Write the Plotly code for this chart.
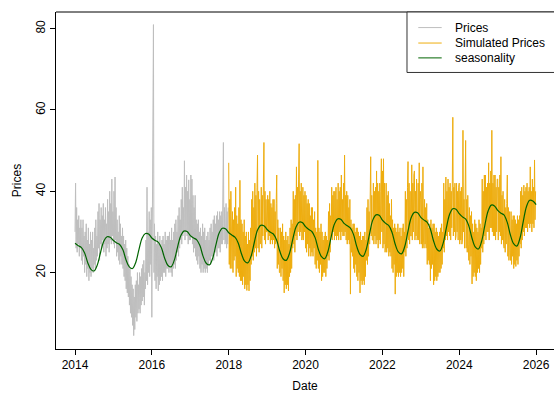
import pandas as pd
import plotly.graph_objects as go

# Observed prices, about every five days (six readings per month), 2014-2017
prices_2014 = [30, 42, 26, 36, 25, 33, 27, 34, 24, 31, 26, 33, 23, 31, 22, 33, 24, 29,
               20, 30, 22, 32, 19, 28, 21, 31, 18, 27, 20, 30, 19, 28, 21, 30, 20, 26,
               22, 31, 21, 33, 23, 29, 24, 35, 26, 37, 23, 33, 27, 36, 26, 34, 28, 37,
               25, 33, 27, 36, 24, 32, 26, 38, 27, 35, 25, 40, 28, 37, 27, 43, 29, 35]
prices_2015 = [27, 40, 26, 43.5, 28, 36, 24, 33, 25, 30, 23, 34, 22, 32, 24, 29, 22, 31,
               21, 29, 19, 27, 18, 28, 16, 26, 15, 24, 14, 22, 12, 21, 10, 19, 9, 17,
               7, 16, 4.5, 14, 6, 17, 9, 18, 8, 20, 10, 17, 11, 20, 10, 19, 12, 21,
               13, 22, 14, 23, 12, 20, 16, 28, 18, 41, 17, 30, 20, 35, 19, 33, 22, 36]
prices_2016 = [9, 30, 43, 81, 20, 32, 18, 29, 16, 27, 19, 30, 15.5, 27, 17, 29, 18, 26,
               19, 28, 18, 29, 20, 27, 20, 30, 19, 28, 21, 29, 21, 29, 20, 30, 22, 28,
               20, 31, 19, 28, 21, 30, 22, 32, 21, 33, 23, 30, 25, 34, 24, 36, 26, 33,
               28, 38, 27, 41, 29, 36, 30, 47.5, 28, 41, 30, 44, 29, 40, 27, 42.8, 28, 38]
prices_2017 = [28, 44, 29, 43, 27, 39, 25, 36, 26, 39, 24, 33, 23, 32, 22, 33, 24, 30,
               21, 31, 20, 29, 22, 32, 20, 30, 21, 31, 20, 28, 21, 29, 20, 30, 22, 28,
               23, 31, 22, 32, 24, 30, 24, 33, 23, 34, 25, 32, 25, 34, 24, 35, 26, 33,
               26, 35, 25, 34, 27, 35, 27, 44, 52, 28, 36, 27, 28, 37, 26, 35, 27, 36]

# Simulated prices, same sampling, 2018-2025
sim_2018 = [47, 22, 38, 21, 40, 24, 21, 35, 20, 33, 23, 36, 24, 41, 19, 34, 21, 32,
            20, 36, 19, 42.7, 18, 33, 18, 32, 17, 30, 19, 33, 16, 29, 17, 30, 15.6, 27,
            17, 30, 15.5, 28, 18, 31, 22, 38, 24, 40, 23, 36, 25, 42, 26, 39, 24, 41,
            48.9, 26, 40, 25, 38, 27, 28, 41, 26, 39, 29, 42, 52, 28, 40, 27, 38, 30]
sim_2019 = [30, 39, 28, 38, 29, 40, 27, 37, 28, 36, 27, 38, 28, 38, 26, 35, 27, 37,
            44, 21, 33, 22, 31, 20, 20, 31, 19, 30, 21, 32, 18, 29, 15, 28, 17, 30,
            16, 28, 17, 29, 15.5, 27, 19, 31, 20, 33, 21, 32, 26, 40, 27, 38, 25, 39,
            29, 46, 28, 41, 30, 43, 51.7, 29, 40, 30, 42, 28, 29, 41, 28, 39, 30, 40]
sim_2020 = [26, 39, 25, 37, 27, 38, 24, 37, 26, 34, 24, 36, 25, 36, 24, 33, 26, 35,
            22, 31, 21, 30, 23, 47.6, 21, 31, 20, 30, 22, 32, 18, 30, 19, 28, 20, 29,
            20, 30, 19, 29, 21, 28, 24, 35, 23, 37, 25, 34, 29, 41, 28, 39, 30, 40,
            28, 40, 29, 41, 28, 38, 29, 42, 28, 40, 30, 41, 28, 44, 30, 38, 29, 42]
sim_2021 = [29, 48.9, 30, 39, 28, 40, 27, 39, 28, 36, 27, 38, 14.7, 33, 25, 31, 24, 32,
            21, 32, 20, 30, 22, 31, 19, 31, 18, 30, 20, 29, 15, 30, 18, 28, 17, 29,
            18, 29, 17, 30, 19, 28, 23, 36, 22, 38, 24, 35, 27, 40, 48.5, 29, 39, 28,
            28, 42, 27, 40, 29, 41, 27, 45, 28, 42, 26, 40, 28, 42, 27, 40, 48, 30]
sim_2022 = [45, 26, 48, 27, 42, 25, 27, 42, 25, 39, 26, 40, 24, 37, 25, 34, 24, 38,
            21, 33, 20, 31, 22, 32, 14.7, 31, 19, 30, 20, 32, 19, 30, 20, 31, 19, 29,
            20, 31, 21, 32, 19, 30, 25, 40, 24, 38, 26, 41, 47.3, 28, 42, 27, 40, 29,
            29, 46.5, 28, 42, 30, 44, 45, 28, 40, 29, 43, 28, 29, 42, 28, 47, 27, 40]
sim_2023 = [38, 27, 42, 26, 46, 28, 26, 38, 27, 36, 26, 37, 22, 33, 23, 31, 22, 32,
            18, 33, 21, 31, 22, 32, 17, 32, 18, 30, 19, 31, 18, 30, 19, 29, 20, 30,
            20, 31, 21, 32, 22, 30, 26, 42, 25, 38, 28, 43.5, 29, 40, 28, 43, 30, 41,
            29, 42, 28, 40, 31, 41, 58.2, 29, 41, 30, 42, 28, 29, 42, 30, 40, 28, 41]
sim_2024 = [42, 27, 40, 28, 41, 27, 28, 55, 30, 38, 26, 40, 52.5, 26, 38, 25, 39, 27,
            23, 36, 22, 34, 24, 35, 17.2, 32, 19, 30, 20, 33, 19, 32, 18, 31, 20, 30,
            21, 33, 20, 32, 22, 31, 26, 43, 25, 40, 27, 44, 29, 44, 28, 41, 30, 42,
            30, 47, 28, 42, 31, 45, 31, 55, 30, 42, 29, 44, 29, 44, 28, 41, 30, 43]
sim_2025 = [43, 28, 41, 30, 44, 29, 48.5, 27, 39, 28, 40, 27, 26, 38, 25, 36, 27, 37,
            44, 24, 36, 23, 35, 25, 23, 35, 22, 33, 24, 34, 21, 34, 22, 33, 21.5, 32,
            23, 34, 22, 33, 24, 34, 27, 40, 26, 41, 28, 39, 30, 41.5, 29, 40, 31, 41,
            31, 42, 30, 40, 32, 41, 31, 46, 32, 40, 30, 43, 32, 41, 31, 47.7, 33, 40]

# Seasonal component, value at the start of each month
season_2014 = [27.2, 26.6, 26.2, 24.9, 22.5, 20.8, 20.4, 21.9, 25.0, 27.7, 28.8, 28.7]
season_2015 = [27.9, 27.3, 26.9, 25.6, 23.1, 21.4, 21.0, 22.5, 25.7, 28.5, 29.6, 29.5]
season_2016 = [28.5, 27.9, 27.5, 26.1, 23.6, 21.8, 21.4, 23.0, 26.2, 29.0, 30.2, 30.1]
season_2017 = [29.1, 28.5, 28.1, 26.7, 24.1, 22.3, 21.9, 23.5, 26.8, 29.7, 30.9, 30.8]
season_2018 = [29.8, 29.2, 28.7, 27.3, 24.7, 22.8, 22.4, 24.0, 27.4, 30.4, 31.6, 31.5]
season_2019 = [30.6, 29.9, 29.5, 28.0, 25.3, 23.4, 23.0, 24.7, 28.1, 31.1, 32.4, 32.3]
season_2020 = [31.3, 30.6, 30.1, 28.6, 25.8, 23.9, 23.4, 25.2, 28.8, 31.9, 33.2, 33.1]
season_2021 = [32.1, 31.5, 31.0, 29.4, 26.5, 24.5, 24.0, 25.8, 29.6, 32.9, 34.2, 34.1]
season_2022 = [32.9, 32.1, 31.6, 30.0, 27.1, 25.1, 24.6, 26.4, 30.2, 33.5, 34.8, 34.7]
season_2023 = [33.6, 32.9, 32.4, 30.8, 27.9, 25.8, 25.3, 27.2, 31.0, 34.3, 35.7, 35.6]
season_2024 = [34.5, 33.7, 33.2, 31.5, 28.5, 26.3, 25.8, 27.7, 31.7, 35.1, 36.6, 36.4]
season_2025 = [35.3, 34.6, 34.2, 32.4, 29.3, 27.1, 26.5, 28.5, 32.6, 36.2, 37.8, 37.6]
season_end = 36.7

x_ticks = [2014, 2016, 2018, 2020, 2022, 2024, 2026]
y_ticks = [20, 40, 60, 80]

GRAY = "#BEBEBE"
ORANGE = "#EEAD0E"
GREEN = "#006400"
FONT = "Liberation Sans, Arial, Helvetica, sans-serif"


def yearly_series(by_year):
    """Spread each year's readings evenly across that calendar year."""
    xs, ys = [], []
    for year, vals in by_year.items():
        dates = pd.date_range(f"{year}-01-01", f"{year + 1}-01-01", periods=len(vals) + 1)[:-1]
        xs.extend(dates)
        ys.extend(vals)
    return xs, ys


obs_x, obs_y = yearly_series({2014: prices_2014, 2015: prices_2015,
                              2016: prices_2016, 2017: prices_2017})
sim_x, sim_y = yearly_series({2018: sim_2018, 2019: sim_2019, 2020: sim_2020,
                              2021: sim_2021, 2022: sim_2022, 2023: sim_2023,
                              2024: sim_2024, 2025: sim_2025})

season_by_year = {2014: season_2014, 2015: season_2015, 2016: season_2016,
                  2017: season_2017, 2018: season_2018, 2019: season_2019,
                  2020: season_2020, 2021: season_2021, 2022: season_2022,
                  2023: season_2023, 2024: season_2024, 2025: season_2025}
sea_x, sea_y = [], []
for year, vals in season_by_year.items():
    sea_x.extend(pd.date_range(f"{year}-01-01", periods=12, freq="MS"))
    sea_y.extend(vals)
sea_x.append(pd.Timestamp("2026-01-01"))
sea_y.append(season_end)

fig = go.Figure()
fig.add_trace(go.Scatter(x=obs_x, y=obs_y, mode="lines", name="Prices",
                         line=dict(color=GRAY, width=1), showlegend=False))
fig.add_trace(go.Scatter(x=sim_x, y=sim_y, mode="lines", name="Simulated Prices",
                         line=dict(color=ORANGE, width=1), showlegend=False))
fig.add_trace(go.Scatter(x=sea_x, y=sea_y, mode="lines", name="seasonality",
                         line=dict(color=GREEN, width=1.2, shape="spline", smoothing=1.0),
                         showlegend=False))

axis_common = dict(showgrid=False, zeroline=False, showline=True, linecolor="black",
                   linewidth=1, ticks="outside", ticklen=5, tickcolor="black", tickwidth=1,
                   tickfont=dict(family=FONT, size=12, color="black"))

fig.update_layout(
    width=554, height=393,
    margin=dict(l=56, r=0, t=12, b=41),
    paper_bgcolor="white", plot_bgcolor="white",
    font=dict(family=FONT, size=12, color="black"),
    xaxis=dict(type="date", range=["2013-07-04", "2026-06-20"],
               tickvals=[f"{y}-01-01" for y in x_ticks],
               ticktext=[str(y) for y in x_ticks],
               title=dict(text="Date", font=dict(family=FONT, size=12), standoff=12),
               **axis_common),
    yaxis=dict(range=[1.2, 84.1], tickvals=y_ticks, ticktext=[str(v) for v in y_ticks],
               tickangle=-90,
               title=dict(text="Prices", font=dict(family=FONT, size=12), standoff=10),
               **axis_common),
)

# top border of the plot box
fig.add_shape(type="line", xref="paper", yref="paper", x0=0, x1=1, y0=1, y1=1,
              line=dict(color="black", width=1))

# legend box with line keys
fig.add_shape(type="rect", xref="paper", yref="paper", x0=0.7048, x1=1.02, y0=0.8206, y1=1,
              line=dict(color="#333333", width=1), fillcolor="white", layer="above")
legend_items = [("Prices", GRAY, 0.9538), ("Simulated Prices", ORANGE, 0.9079),
                ("seasonality", GREEN, 0.8638)]
for label, color, ypos in legend_items:
    fig.add_shape(type="line", xref="paper", yref="paper", x0=0.7275, x1=0.7745,
                  y0=ypos, y1=ypos, line=dict(color=color, width=1), layer="above")
    fig.add_annotation(xref="paper", yref="paper", x=0.7966, y=ypos, text=label,
                       showarrow=False, xanchor="left", yanchor="middle",
                       font=dict(family=FONT, size=12, color="black"))

fig.write_html("out.html")
